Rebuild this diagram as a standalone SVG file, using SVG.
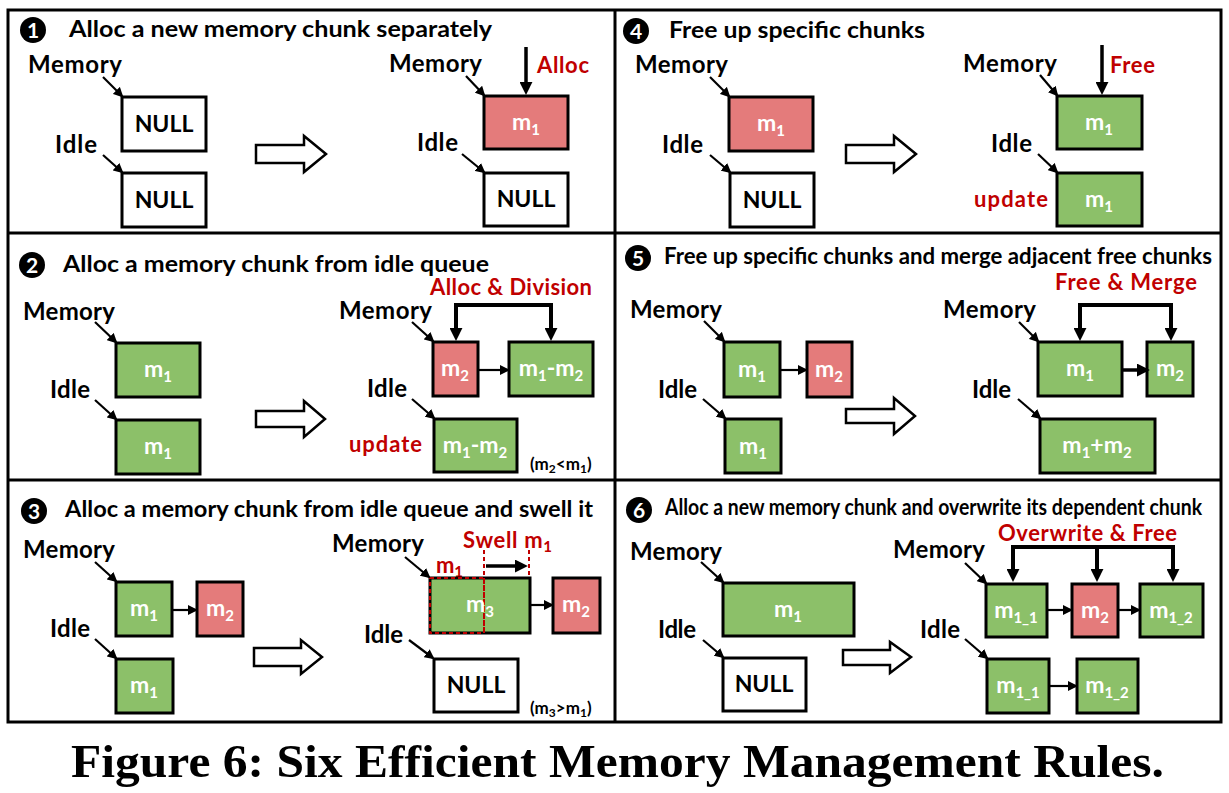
<svg xmlns="http://www.w3.org/2000/svg" width="1229" height="793" viewBox="0 0 1229 793">
<defs>
<marker id="ah" viewBox="0 0 10 10" markerUnits="userSpaceOnUse" markerWidth="10" markerHeight="10" refX="8" refY="5" orient="auto"><path d="M0,0 L10,5 L0,10 z" fill="#000"/></marker>
<marker id="ahB" viewBox="0 0 10 10" markerUnits="userSpaceOnUse" markerWidth="13" markerHeight="13" refX="7" refY="5" orient="auto"><path d="M0,0 L10,5 L0,10 z" fill="#000"/></marker>
<style>
.frame{fill:none;stroke:#000;stroke-width:3}
.box{stroke:#000;stroke-width:3}
.g{fill:#8CC069}
.r{fill:#E47B7B}
.w{fill:#fff}
.lbl{font-family:Lato,"Liberation Sans",sans-serif;font-weight:bold;font-size:24px;fill:#000}
.ttl{font-family:Lato,"Liberation Sans",sans-serif;font-weight:bold;font-size:23px;fill:#000}
.red{font-family:Lato,"Liberation Sans",sans-serif;font-weight:bold;font-size:22px;fill:#C00000}
.in{font-family:Lato,"Liberation Sans",sans-serif;font-weight:bold;font-size:23px;fill:#fff;text-anchor:middle}
.nul{font-family:Lato,"Liberation Sans",sans-serif;font-weight:bold;font-size:23px;fill:#000;text-anchor:middle}
.sm{font-family:Lato,"Liberation Sans",sans-serif;font-weight:bold;font-size:17px;fill:#000}
.num{font-family:Lato,"Liberation Sans",sans-serif;font-weight:bold;font-size:21px;fill:#fff;text-anchor:middle}
.thin{stroke:#000;stroke-width:2.2;fill:none;marker-end:url(#ah)}
.thick{stroke:#000;stroke-width:3.5;fill:none;marker-end:url(#ahB)}
.brk{stroke:#000;stroke-width:4;fill:none}
.hollow{fill:#fff;stroke:#000;stroke-width:2.5;stroke-linejoin:miter}
.dash{fill:none;stroke:#C00000;stroke-width:2;stroke-dasharray:4,3}
.cap{font-family:"Liberation Serif",serif;font-weight:bold;font-size:47px;fill:#000}
</style>
</defs>
<rect width="1229" height="793" fill="#fff"/>

<g id="frame">
<rect class="frame" x="8" y="10" width="1213" height="712"/>
<line class="frame" x1="615" y1="10" x2="615" y2="722"/>
<line class="frame" x1="8" y1="233" x2="1221" y2="233"/>
<line class="frame" x1="8" y1="480" x2="1221" y2="480"/>
</g>

<!-- Panel 1 -->
<g id="panel1-title">
<circle cx="33" cy="30" r="13" fill="#000"/><text class="num" x="33" y="37.5">1</text>
<text class="ttl" x="69" y="37" textLength="423" lengthAdjust="spacingAndGlyphs">Alloc a new memory chunk separately</text>
</g>
<g id="p1-mem-label"><text class="lbl" x="28" y="73" textLength="94">Memory</text></g>
<g id="p1-null-a"><rect class="box w" x="122" y="97" width="84" height="54"/><text class="nul" x="164" y="132">NULL</text></g>
<g id="p1-idle-label"><text class="lbl" x="55" y="153" textLength="42">Idle</text></g>
<g id="p1-null-b"><rect class="box w" x="122" y="173" width="84" height="54"/><text class="nul" x="164" y="208">NULL</text></g>
<g id="p1-shift"><polygon class="hollow" points="256,145 304,145 304,136 326,154 304,172 304,163 256,163"/></g>
<g id="p1-mem-label2"><text class="lbl" x="389" y="72" textLength="93">Memory</text></g>
<g id="p1-m1"><rect class="box r" x="484" y="96" width="84" height="53"/><text class="in" x="526" y="130">m<tspan font-size="15" dy="5">1</tspan></text></g>
<g id="p1-alloc"><text class="red" x="537" y="73" textLength="52">Alloc</text></g>
<g id="p1-idle-label2"><text class="lbl" x="417" y="151" textLength="41">Idle</text></g>
<g id="p1-null-c"><rect class="box w" x="484" y="173" width="84" height="53"/><text class="nul" x="526" y="207">NULL</text></g>

<!-- Panel 4 -->
<g id="panel4-title">
<circle cx="636" cy="31" r="13" fill="#000"/><text class="num" x="636" y="38.5">4</text>
<text class="ttl" x="669" y="38" textLength="256" lengthAdjust="spacingAndGlyphs">Free up specific chunks</text>
</g>
<g id="p4-mem-label"><text class="lbl" x="635" y="73" textLength="93">Memory</text></g>
<g id="p4-m1"><rect class="box r" x="729" y="97" width="84" height="54"/><text class="in" x="771" y="131">m<tspan font-size="15" dy="5">1</tspan></text></g>
<g id="p4-idle-label"><text class="lbl" x="662" y="153" textLength="41">Idle</text></g>
<g id="p4-null"><rect class="box w" x="730" y="173" width="84" height="54"/><text class="nul" x="772" y="208">NULL</text></g>
<g id="p4-shift"><polygon class="hollow" points="846,145 894,145 894,136 916,154 894,172 894,163 846,163"/></g>
<g id="p4-mem-label2"><text class="lbl" x="963" y="72" textLength="94">Memory</text></g>
<g id="p4-m1b"><rect class="box g" x="1057" y="96" width="85" height="53"/><text class="in" x="1099" y="130">m<tspan font-size="15" dy="5">1</tspan></text></g>
<g id="p4-free"><text class="red" x="1110" y="73" textLength="45">Free</text></g>
<g id="p4-idle-label2"><text class="lbl" x="991" y="152" textLength="41">Idle</text></g>
<g id="p4-m1c"><rect class="box g" x="1057" y="173" width="85" height="53"/><text class="in" x="1099" y="207">m<tspan font-size="15" dy="5">1</tspan></text></g>
<g id="p4-update"><text class="red" x="974" y="207" textLength="74">update</text></g>

<!-- Panel 2 -->
<g id="panel2-title">
<circle cx="32" cy="265" r="13" fill="#000"/><text class="num" x="32" y="272.5">2</text>
<text class="ttl" x="63" y="272" textLength="426" lengthAdjust="spacingAndGlyphs">Alloc a memory chunk from idle queue</text>
</g>
<g id="p2-mem-label"><text class="lbl" x="23" y="320" textLength="92">Memory</text></g>
<g id="p2-m1a"><rect class="box g" x="116" y="343" width="84" height="54"/><text class="in" x="158" y="377">m<tspan font-size="15" dy="5">1</tspan></text></g>
<g id="p2-idle-label"><text class="lbl" x="50" y="398" textLength="40">Idle</text></g>
<g id="p2-m1b"><rect class="box g" x="116" y="420" width="84" height="54"/><text class="in" x="158" y="454">m<tspan font-size="15" dy="5">1</tspan></text></g>
<g id="p2-shift"><polygon class="hollow" points="256,411 304,411 304,401 325,419 304,437 304,427 256,427"/></g>
<g id="p2-op"><text class="red" x="430" y="295" textLength="162">Alloc &amp; Division</text></g>
<g id="p2-mem-label2"><text class="lbl" x="339" y="319" textLength="93">Memory</text></g>
<g id="p2-m2"><rect class="box r" x="433" y="342" width="45" height="54"/><text class="in" x="455" y="376">m<tspan font-size="15" dy="5">2</tspan></text></g>
<g id="p2-m1m2a"><rect class="box g" x="509" y="342" width="84" height="54"/><text class="in" x="551" y="376">m<tspan font-size="15" dy="5">1</tspan><tspan dy="-5">-m</tspan><tspan font-size="15" dy="5">2</tspan></text></g>
<g id="p2-idle-label2"><text class="lbl" x="367" y="397" textLength="40">Idle</text></g>
<g id="p2-m1m2b"><rect class="box g" x="434" y="419" width="83" height="53"/><text class="in" x="475" y="453">m<tspan font-size="15" dy="5">1</tspan><tspan dy="-5">-m</tspan><tspan font-size="15" dy="5">2</tspan></text></g>
<g id="p2-update"><text class="red" x="349" y="452" textLength="73">update</text></g>
<g id="p2-cond"><text class="sm" x="530" y="470">(m<tspan font-size="12" dy="3">2</tspan><tspan dy="-3">&lt;m</tspan><tspan font-size="12" dy="3">1</tspan><tspan dy="-3">)</tspan></text></g>

<!-- Panel 5 -->
<g id="panel5-title">
<circle cx="638" cy="258" r="13" fill="#000"/><text class="num" x="638" y="265.5">5</text>
<text class="ttl" x="664" y="264" font-size="18.5" textLength="548" lengthAdjust="spacingAndGlyphs">Free up specific chunks and merge adjacent free chunks</text>
</g>
<g id="p5-op"><text class="red" x="1055" y="290" textLength="142">Free &amp; Merge</text></g>
<g id="p5-mem-label"><text class="lbl" x="630" y="318" textLength="92">Memory</text></g>
<g id="p5-m1a"><rect class="box g" x="724" y="342" width="56" height="55"/><text class="in" x="752" y="377">m<tspan font-size="15" dy="5">1</tspan></text></g>
<g id="p5-m2a"><rect class="box r" x="807" y="342" width="45" height="55"/><text class="in" x="829" y="377">m<tspan font-size="15" dy="5">2</tspan></text></g>
<g id="p5-idle-label"><text class="lbl" x="658" y="398" textLength="39">Idle</text></g>
<g id="p5-m1b"><rect class="box g" x="725" y="419" width="56" height="54"/><text class="in" x="753" y="454">m<tspan font-size="15" dy="5">1</tspan></text></g>
<g id="p5-shift"><polygon class="hollow" points="846,409 894,409 894,398 915,416 894,434 894,423 846,423"/></g>
<g id="p5-mem-label2"><text class="lbl" x="943" y="318" textLength="93">Memory</text></g>
<g id="p5-m1c"><rect class="box g" x="1038" y="342" width="84" height="54"/><text class="in" x="1080" y="376">m<tspan font-size="15" dy="5">1</tspan></text></g>
<g id="p5-m2b"><rect class="box g" x="1147" y="342" width="46" height="54"/><text class="in" x="1170" y="376">m<tspan font-size="15" dy="5">2</tspan></text></g>
<g id="p5-idle-label2"><text class="lbl" x="972" y="398" textLength="39">Idle</text></g>
<g id="p5-m1m2"><rect class="box g" x="1040" y="419" width="115" height="54"/><text class="in" x="1097" y="453">m<tspan font-size="15" dy="5">1</tspan><tspan dy="-5">+m</tspan><tspan font-size="15" dy="5">2</tspan></text></g>

<!-- Panel 3 -->
<g id="panel3-title">
<circle cx="34" cy="511" r="13" fill="#000"/><text class="num" x="34" y="518.5">3</text>
<text class="ttl" x="65" y="517" textLength="528" lengthAdjust="spacingAndGlyphs">Alloc a memory chunk from idle queue and swell it</text>
</g>
<g id="p3-mem-label"><text class="lbl" x="23" y="558" textLength="92">Memory</text></g>
<g id="p3-m1a"><rect class="box g" x="116" y="582" width="56" height="54"/><text class="in" x="144" y="616">m<tspan font-size="15" dy="5">1</tspan></text></g>
<g id="p3-m2a"><rect class="box r" x="197" y="582" width="46" height="54"/><text class="in" x="220" y="616">m<tspan font-size="15" dy="5">2</tspan></text></g>
<g id="p3-idle-label"><text class="lbl" x="50" y="637" textLength="40">Idle</text></g>
<g id="p3-m1b"><rect class="box g" x="116" y="659" width="57" height="54"/><text class="in" x="144" y="693">m<tspan font-size="15" dy="5">1</tspan></text></g>
<g id="p3-shift"><polygon class="hollow" points="254,648 301,648 301,640 322,657 301,674 301,666 254,666"/></g>
<g id="p3-mem-label2"><text class="lbl" x="332" y="552" textLength="92">Memory</text></g>
<g id="p3-swell"><text class="red" x="463" y="548" textLength="89">Swell m<tspan font-size="15" dy="4">1</tspan></text></g>
<g id="p3-m1lbl"><text class="red" x="436" y="573" textLength="27">m<tspan font-size="15" dy="4">1</tspan></text></g>
<g id="p3-m3"><rect class="box g" x="430" y="578" width="100" height="55"/><rect class="dash" x="430" y="578" width="54" height="55" stroke-width="3"/><line class="dash" x1="484" y1="550" x2="484" y2="633"/><line class="dash" x1="529" y1="550" x2="529" y2="578"/><text class="in" x="480" y="612">m<tspan font-size="15" dy="5">3</tspan></text></g>
<g id="p3-m2b"><rect class="box r" x="553" y="578" width="47" height="55"/><text class="in" x="576" y="612">m<tspan font-size="15" dy="5">2</tspan></text></g>
<g id="p3-idle-label2"><text class="lbl" x="364" y="643" textLength="39">Idle</text></g>
<g id="p3-null"><rect class="box w" x="434" y="659" width="84" height="53"/><text class="nul" x="476" y="693">NULL</text></g>
<g id="p3-cond"><text class="sm" x="530" y="714">(m<tspan font-size="12" dy="3">3</tspan><tspan dy="-3">&gt;m</tspan><tspan font-size="12" dy="3">1</tspan><tspan dy="-3">)</tspan></text></g>

<!-- Panel 6 -->
<g id="panel6-title">
<circle cx="639" cy="510" r="13" fill="#000"/><text class="num" x="639" y="517.5">6</text>
<text class="ttl" x="665" y="515" font-size="17.5" textLength="537" lengthAdjust="spacingAndGlyphs">Alloc a new memory chunk and overwrite its dependent chunk</text>
</g>
<g id="p6-mem-label"><text class="lbl" x="630" y="560" textLength="92">Memory</text></g>
<g id="p6-m1"><rect class="box g" x="723" y="583" width="131" height="53"/><text class="in" x="788" y="617">m<tspan font-size="15" dy="5">1</tspan></text></g>
<g id="p6-idle-label"><text class="lbl" x="658" y="638" textLength="38">Idle</text></g>
<g id="p6-null"><rect class="box w" x="723" y="658" width="83" height="53"/><text class="nul" x="764" y="692">NULL</text></g>
<g id="p6-shift"><polygon class="hollow" points="843,650 890,650 890,642 911,657 890,673 890,665 843,665"/></g>
<g id="p6-op"><text class="red" x="998" y="541" textLength="179">Overwrite &amp; Free</text></g>
<g id="p6-mem-label2"><text class="lbl" x="893" y="558" textLength="92">Memory</text></g>
<g id="p6-m11a"><rect class="box g" x="986" y="584" width="61" height="53"/><text class="in" x="1016" y="618">m<tspan font-size="15" dy="5">1_1</tspan></text></g>
<g id="p6-m2"><rect class="box r" x="1072" y="584" width="46" height="53"/><text class="in" x="1095" y="618">m<tspan font-size="15" dy="5">2</tspan></text></g>
<g id="p6-m12a"><rect class="box g" x="1140" y="584" width="63" height="53"/><text class="in" x="1171" y="618">m<tspan font-size="15" dy="5">1_2</tspan></text></g>
<g id="p6-idle-label2"><text class="lbl" x="920" y="638" textLength="40">Idle</text></g>
<g id="p6-m11b"><rect class="box g" x="987" y="659" width="62" height="54"/><text class="in" x="1018" y="693">m<tspan font-size="15" dy="5">1_1</tspan></text></g>
<g id="p6-m12b"><rect class="box g" x="1077" y="659" width="61" height="54"/><text class="in" x="1107" y="693">m<tspan font-size="15" dy="5">1_2</tspan></text></g>

<!-- Connectors -->
<g id="connectors">
<line class="thin" x1="103" y1="77" x2="122" y2="96"/>
<line class="thin" x1="103" y1="155" x2="122" y2="172"/>
<line class="thin" x1="466" y1="76" x2="484" y2="95"/>
<line class="thick" x1="526" y1="47" x2="526" y2="91"/>
<line class="thin" x1="462" y1="154" x2="484" y2="172"/>

<line class="thin" x1="710" y1="77" x2="729" y2="96"/>
<line class="thin" x1="710" y1="155" x2="730" y2="172"/>
<line class="thin" x1="1040" y1="75" x2="1057" y2="95"/>
<line class="thick" x1="1102" y1="45" x2="1102" y2="91"/>
<line class="thin" x1="1038" y1="154" x2="1057" y2="172"/>

<line class="thin" x1="95" y1="322" x2="116" y2="342"/>
<line class="thin" x1="95" y1="400" x2="116" y2="419"/>
<line class="thin" x1="412" y1="322" x2="433" y2="341"/>
<line class="thin" x1="479" y1="370" x2="508" y2="370"/>
<polyline class="brk" points="456,337 456,305 551,305 551,337"/>
<line class="thick" x1="456" y1="320" x2="456" y2="337"/>
<line class="thick" x1="551" y1="320" x2="551" y2="337"/>
<line class="thin" x1="412" y1="399" x2="434" y2="418"/>

<line class="thin" x1="704" y1="321" x2="724" y2="341"/>
<line class="thin" x1="781" y1="370" x2="806" y2="370"/>
<line class="thin" x1="703" y1="399" x2="725" y2="418"/>
<line class="thin" x1="1019" y1="322" x2="1038" y2="341"/>
<line class="thick" x1="1123" y1="370" x2="1146" y2="370"/>
<polyline class="brk" points="1080,337 1080,305 1171,305 1171,337"/>
<line class="thick" x1="1080" y1="320" x2="1080" y2="337"/>
<line class="thick" x1="1171" y1="320" x2="1171" y2="337"/>
<line class="thin" x1="1018" y1="399" x2="1040" y2="418"/>

<line class="thin" x1="95" y1="562" x2="116" y2="581"/>
<line class="thin" x1="173" y1="610" x2="196" y2="610"/>
<line class="thin" x1="95" y1="639" x2="116" y2="658"/>
<line class="thin" x1="405" y1="557" x2="429" y2="577"/>
<line class="thick" x1="486" y1="566" x2="524" y2="566"/>
<line class="thin" x1="531" y1="605" x2="552" y2="605"/>
<line class="thin" x1="409" y1="640" x2="433" y2="658"/>

<line class="thin" x1="701" y1="562" x2="723" y2="582"/>
<line class="thin" x1="703" y1="640" x2="723" y2="657"/>
<line class="thin" x1="965" y1="563" x2="986" y2="583"/>
<polyline class="brk" points="1013,578 1013,547 1173,547 1173,578"/>
<line class="brk" x1="1097" y1="547" x2="1097" y2="578"/>
<line class="thick" x1="1013" y1="565" x2="1013" y2="578"/>
<line class="thick" x1="1097" y1="565" x2="1097" y2="578"/>
<line class="thick" x1="1173" y1="565" x2="1173" y2="578"/>
<line class="thin" x1="1048" y1="610" x2="1071" y2="610"/>
<line class="thin" x1="1119" y1="610" x2="1139" y2="610"/>
<line class="thin" x1="965" y1="639" x2="987" y2="658"/>
<line class="thin" x1="1050" y1="686" x2="1076" y2="686"/>
</g>

<g id="caption"><text class="cap" x="71" y="777" textLength="1093" lengthAdjust="spacingAndGlyphs">Figure 6: Six Efficient Memory Management Rules.</text></g>
</svg>
